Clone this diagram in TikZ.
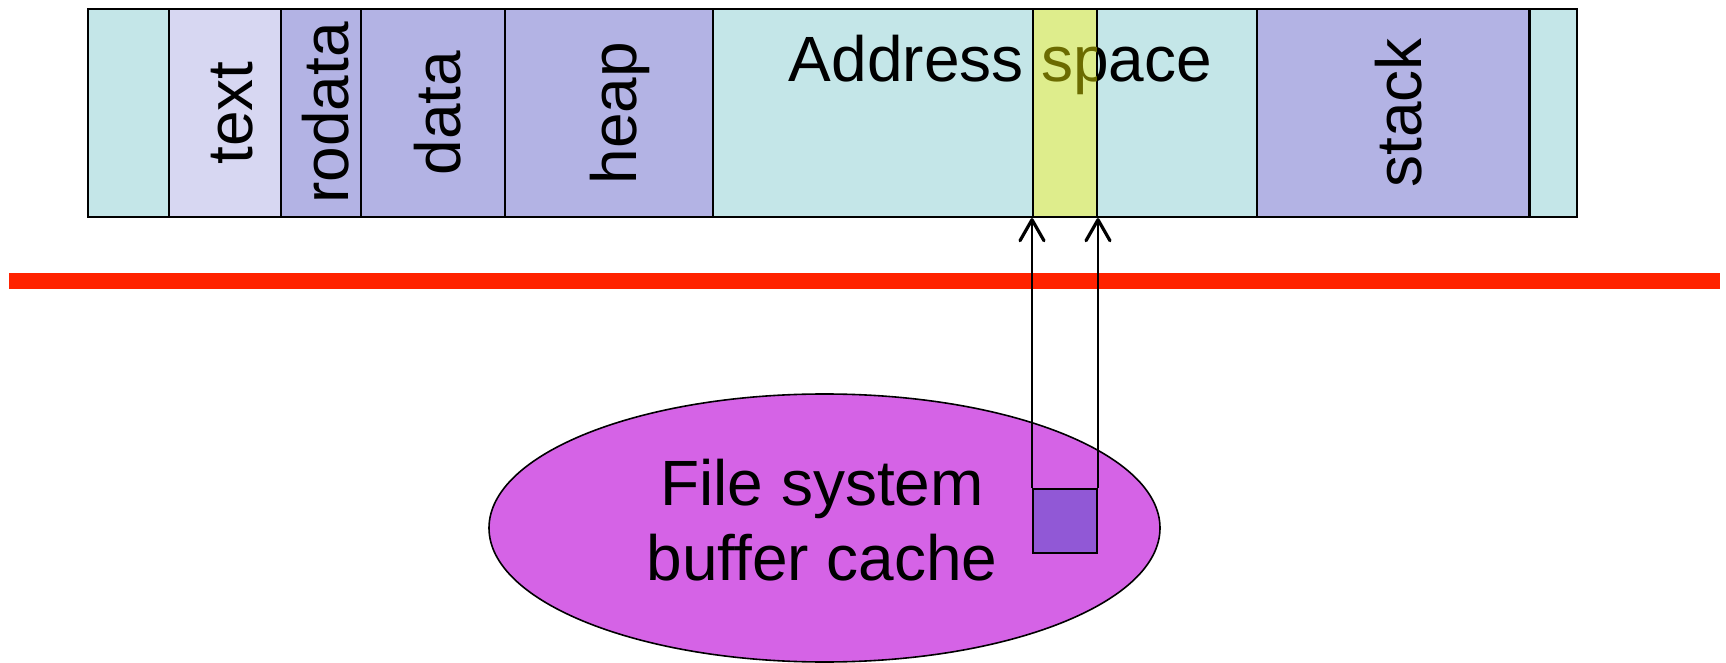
\documentclass[tikz,border=0pt]{standalone}
\usepackage{fontspec}
\setmainfont{Liberation Sans}
\usetikzlibrary{arrows.meta,shapes.geometric}
\definecolor{cyanbg}{RGB}{196,230,232}
\definecolor{lav}{RGB}{215,215,242}
\definecolor{peri}{RGB}{179,179,228}
\definecolor{ylw}{RGB}{222,237,140}
\definecolor{redline}{RGB}{255,34,0}
\definecolor{mag}{RGB}{213,99,230}
\definecolor{bufc}{RGB}{145,88,214}
\definecolor{olivetxt}{RGB}{107,107,0}
\tikzset{
  seg/.style={draw=black, line width=1.1pt},
  vlabel/.style={rotate=90, anchor=base, inner sep=0pt, font=\fontsize{32}{38}\selectfont},
  bigtxt/.style={inner sep=0pt, anchor=base, font=\fontsize{32}{38}\selectfont},
  arr/.style={draw=black, line width=1pt, -{Straight Barb[length=10.5pt,width=12pt,line width=1.6pt,round]}},
}
\begin{document}
\begin{tikzpicture}[x=0.5pt,y=-0.5pt]
\useasboundingbox (0,0) rectangle (1726,663);
% address space segments
\path[seg, fill=cyanbg] (88,9) rectangle (169,217);
\path[seg, fill=lav] (169,9) rectangle (281,217);
\path[seg, fill=peri] (281,9) rectangle (361,217);
\path[seg, fill=peri] (361,9) rectangle (505,217);
\path[seg, fill=peri] (505,9) rectangle (713,217);
\path[seg, fill=cyanbg] (713,9) rectangle (1257,217);
\path[seg, fill=peri] (1257,9) rectangle (1529.5,217);
\path[seg, fill=cyanbg] (1529.5,9) rectangle (1577,217);
% labels
\node[vlabel] (ltext) at (252,113) {text};
\node[vlabel] (lrodata) at (348,113) {rodata};
\node[vlabel] (ldata) at (460,113) {data};
\node[vlabel] (lheap) at (636,113) {heap};
\node[vlabel] (lstack) at (1421,113) {stack};
\node[bigtxt] (addr) at (1000.5,82) {Address space};
% mapped page strip
\node[seg, fill=ylw, inner sep=0pt, minimum width=32pt, minimum height=104pt] (ys) at (1065,113) {};
\begin{scope}
  \clip (1033.6,9) rectangle (1096.4,217);
  \node[bigtxt, text=olivetxt] at (1000.5,82) {Address space};
\end{scope}
\draw[seg, fill=none] (88,9) rectangle (1577,217);
% kernel boundary
\draw[redline, line width=8pt] (9,281) -- (1720,281);
% buffer cache
\node[ellipse, draw=black, line width=0.8pt, fill=mag, inner sep=0pt,
      minimum width=335.5pt, minimum height=134pt] (fsc) at (824.5,528) {};
\node[inner sep=0pt, align=center, font=\fontsize{32}{37.5}\selectfont] (fsclabel) at (822,520) {File system\\buffer cache};
\node[draw=black, line width=1pt, fill=bufc, inner sep=0pt, minimum width=32pt, minimum height=32pt] (buf) at (1065,521) {};
\draw[arr] (buf.north west) -- (buf.north west |- ys.south);
\draw[arr] (buf.north east) -- (buf.north east |- ys.south);
\end{tikzpicture}
\end{document}
